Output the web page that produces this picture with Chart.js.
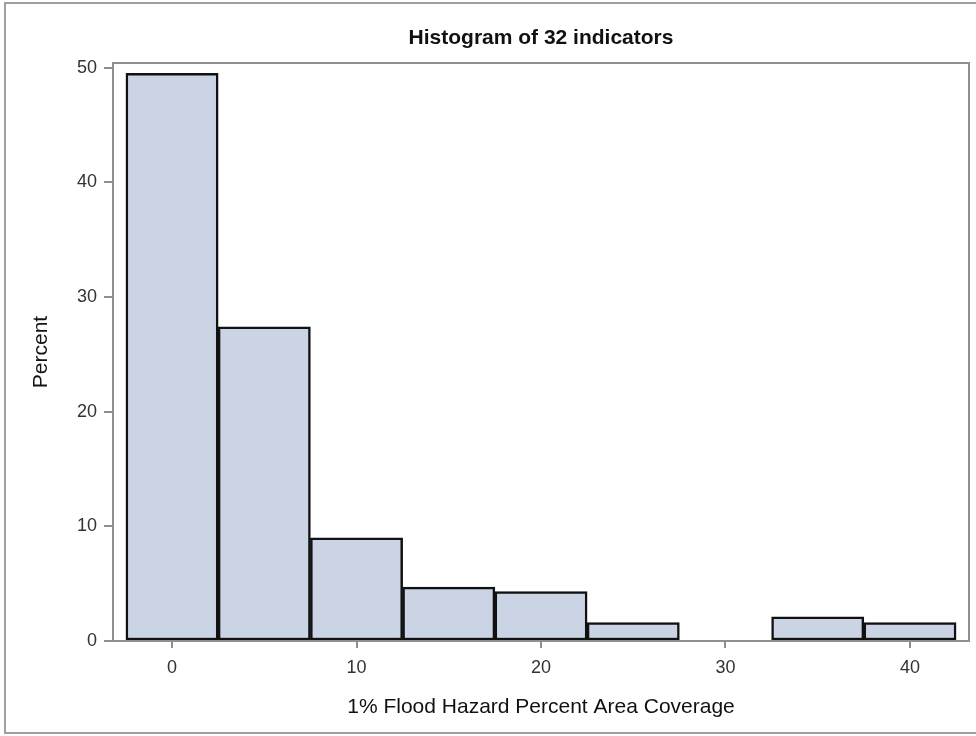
<!DOCTYPE html>
<html>
<head>
<meta charset="utf-8">
<script src="https://cdn.jsdelivr.net/npm/chart.js@4.4.0/dist/chart.umd.min.js"></script>
<style>
  html, body { margin: 0; padding: 0; background: #fff; }
  #wrap { width: 976px; height: 736px; }
</style>
</head>
<body>
<div id="wrap"><canvas id="histChart" width="976" height="736"></canvas></div>
<script>
// bin centres (width 5) and percent per bin
const binCenters = [0, 5, 10, 15, 20, 25, 30, 35, 40];
const percents = [49.5, 27.4, 9.0, 4.7, 4.3, 1.6, 0, 2.1, 1.6];
const xTickValues = [0, 10, 20, 30, 40];
const yTickValues = [0, 10, 20, 30, 40, 50];

const fontFam = '"Liberation Sans", Arial, sans-serif';

// grey frames: whole picture + plot area
const framePlugin = {
    id: 'frames',
    beforeDraw(chart) {
        const ctx = chart.ctx;
        ctx.save();
        ctx.fillStyle = '#fff';
        ctx.fillRect(0, 0, chart.width, chart.height);
        ctx.strokeStyle = '#a0a0a0';
        ctx.lineWidth = 2;
        ctx.strokeRect(5, 3, chart.width + 10, chart.height - 6);
        ctx.restore();
    },
    afterDatasetsDraw(chart) {
        const a = chart.chartArea;
        const ctx = chart.ctx;
        ctx.save();
        ctx.strokeStyle = '#8f8f8f';
        ctx.lineWidth = 2;
        ctx.strokeRect(a.left, a.top, a.right - a.left, a.bottom - a.top);
        ctx.restore();
    }
};

const ctx = document.getElementById('histChart').getContext('2d');
new Chart(ctx, {
    type: 'bar',
    data: {
        datasets: [{
            data: binCenters.map((c, i) => ({ x: c, y: percents[i] })),
            backgroundColor: '#cad4e4',
            borderColor: '#111',
            borderWidth: (c) => (c.raw && c.raw.y > 0 ? 2.5 : 0),
            borderSkipped: false,
            barPercentage: 1,
            categoryPercentage: 1
        }]
    },
    options: {
        responsive: false,
        animation: false,
        layout: { padding: { left: 6, right: 7, top: 0, bottom: 6 } },
        plugins: {
            legend: { display: false },
            tooltip: { enabled: false },
            title: {
                display: true,
                fullSize: false,
                text: 'Histogram of 32 indicators',
                color: '#111',
                font: { family: fontFam, size: 21, weight: 'bold' },
                padding: { top: 25.4, bottom: 12.4 }
            }
        },
        scales: {
            x: {
                type: 'linear',
                offset: false,
                min: -3.2,
                max: 43.2,
                afterBuildTicks: (s) => { s.ticks = xTickValues.map(v => ({ value: v })); },
                afterFit: (s) => { s.height = 89; },
                border: { display: false },
                grid: { offset: false, drawOnChartArea: false, drawTicks: true, tickLength: 7, color: '#8f8f8f', lineWidth: 2 },
                ticks: { color: '#333', font: { family: fontFam, size: 18 }, padding: 9 },
                title: {
                    display: true,
                    text: '1% Flood Hazard Percent Area Coverage',
                    color: '#111',
                    font: { family: fontFam, size: 21 },
                    padding: { top: 0, bottom: 10.4 }
                }
            },
            y: {
                min: 0,
                max: 50.4,
                afterBuildTicks: (s) => { s.ticks = yTickValues.map(v => ({ value: v })); },
                afterFit: (s) => { s.width = 107; },
                border: { display: false },
                grid: { drawOnChartArea: false, drawTicks: true, tickLength: 9, color: '#8f8f8f', lineWidth: 2 },
                ticks: { color: '#333', font: { family: fontFam, size: 18 }, padding: 7 },
                title: {
                    display: true,
                    text: 'Percent',
                    color: '#111',
                    font: { family: fontFam, size: 21 },
                    padding: { top: 22.4, bottom: 0 }
                }
            }
        }
    },
    plugins: [framePlugin]
});
</script>
</body>
</html>
